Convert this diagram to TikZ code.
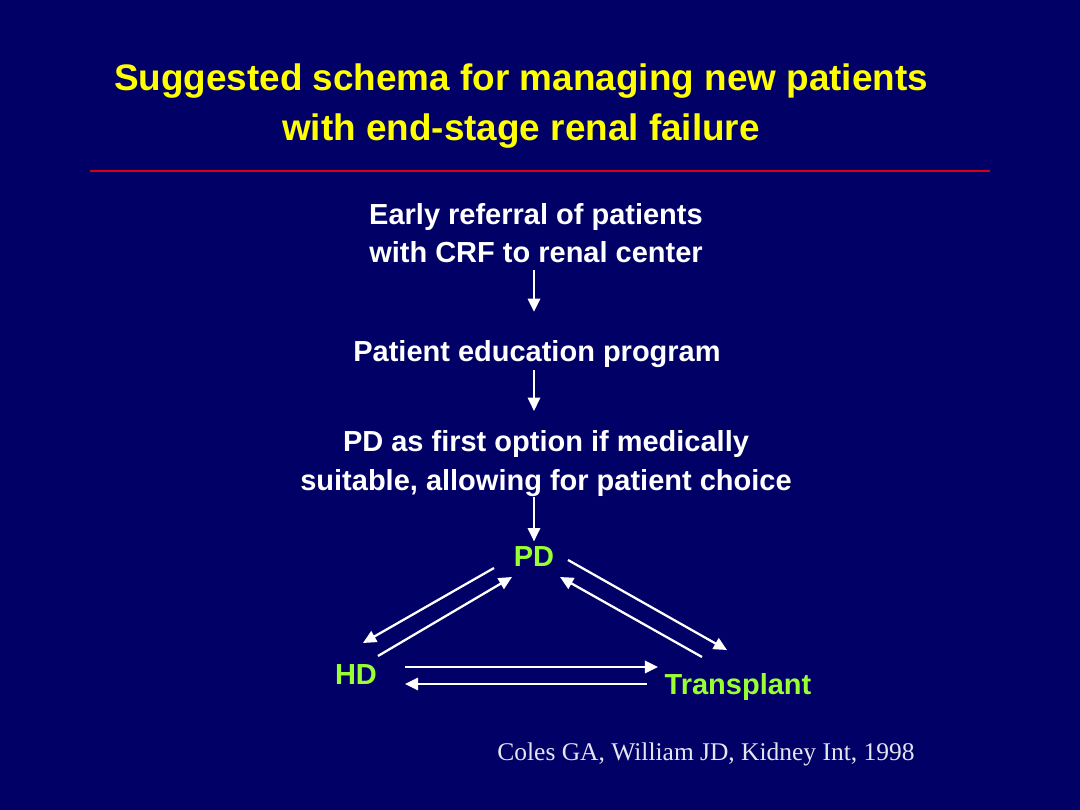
\documentclass[tikz,border=0pt]{standalone}
\usepackage{fontspec}
\setmainfont{Liberation Sans}
\newfontfamily\citefont{Liberation Serif}
\usetikzlibrary{arrows.meta,positioning}

\definecolor{slidebg}{RGB}{0,0,102}
\definecolor{titleyellow}{RGB}{255,255,0}
\definecolor{rulered}{RGB}{214,0,20}
\definecolor{optgreen}{RGB}{153,255,51}

\begin{document}
\begin{tikzpicture}[x=0.02cm, y=-0.02cm,
    steptext/.style={text=white, font=\bfseries\fontsize{16.5}{22}\selectfont, align=center, inner sep=0pt},
    choice/.style={text=optgreen, font=\bfseries\fontsize{16.5}{20}\selectfont, inner sep=0pt},
    flow/.style={-{Triangle[length=7.5pt,width=7pt]}, white, line width=1.3pt}]

    % Slide background
    \fill[slidebg] (0,0) rectangle (1080,810);

    % Title and rule
    \node[text=titleyellow, font=\bfseries\fontsize{21}{28.4}\selectfont, align=center, inner sep=0pt] (title) at (521,106)
        {Suggested schema for managing new patients\\with end-stage renal failure};
    \draw[rulered, line width=1.5pt] (90,171) -- (990,171);

    % Steps
    \node[steptext] (early) at (536,233) {Early referral of patients\\with CRF to renal center};
    \node[steptext] (educ) at (537,354.5) {Patient education program};
    \node[steptext] (opt) at (546,463.5) {PD as first option if medically\\suitable, allowing for patient choice};

    % Treatment options
    \node[choice] (pd) at (534,557) {PD};
    \node[choice] (hd) at (356,675) {HD};
    \node[choice] (tp) at (738,687) {Transplant};

    \draw[flow, shorten <=4pt, shorten >=16.4pt] (early.south -| pd) -- (educ.north -| pd);
    \draw[flow, shorten <=1pt, shorten >=11pt] (educ.south -| pd) -- (opt.north -| pd);
    \draw[flow, shorten >=3pt] (opt.south -| pd) -- (pd);

    % Switching between options
    \draw[flow] ([shift={(-40,11)}]pd.center) -- ([shift={(7,-32)}]hd.center);
    \draw[flow] ([shift={(22,-19)}]hd.center) -- ([shift={(-22,20)}]pd.center);
    \draw[flow] ([shift={(34,3)}]pd.center) -- ([shift={(-11,-37)}]tp.center);
    \draw[flow] ([shift={(-36,-30)}]tp.center) -- ([shift={(26,20)}]pd.center);
    \draw[flow, line width=1.6pt] ([shift={(49,-8)}]hd.center) -- ([shift={(-80,-20)}]tp.center);
    \draw[flow] ([shift={(-91,-3)}]tp.center) -- ([shift={(49,9)}]hd.center);

    % Reference
    \node[text=white!90!slidebg, font=\citefont\fontsize{14.5}{16}\selectfont, inner sep=0pt] (cite) at (706,754)
        {Coles GA, William JD, Kidney Int, 1998};
\end{tikzpicture}
\end{document}
